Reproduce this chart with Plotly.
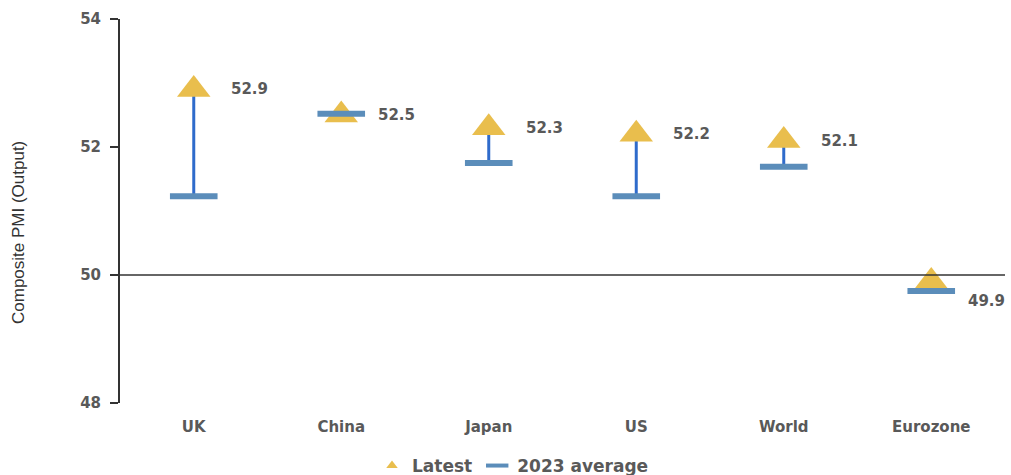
import plotly.graph_objects as go

categories = ["UK", "China", "Japan", "US", "World", "Eurozone"]
latest = [52.9, 52.5, 52.3, 52.2, 52.1, 49.9]
avg_2023 = [51.23, 52.52, 51.75, 51.23, 51.69, 49.75]
label_text = ["52.9", "52.5", "52.3", "52.2", "52.1", "49.9"]
y_ticks = [48, 50, 52, 54]

TXT = "#595959"
FONT = "DejaVu Sans"

fig = go.Figure()

# connecting stems
sx, sy = [], []
for c, a, l in zip(categories, avg_2023, latest):
    sx += [c, c, None]
    sy += [a, l, None]
fig.add_trace(go.Scatter(x=sx, y=sy, mode="lines", line=dict(color="#2F6BCB", width=3),
                         showlegend=False, hoverinfo="skip"))

fig.add_trace(go.Scatter(x=categories, y=latest, mode="markers", name="Latest", showlegend=False,
                         marker=dict(symbol="triangle-up", size=29, color="#E9BE4D")))
fig.add_trace(go.Scatter(x=categories, y=avg_2023, mode="markers", name="2023 average", showlegend=False,
                         marker=dict(symbol="line-ew", size=34,
                                     line=dict(color="#5B8DBA", width=6))))

# legend entries
fig.add_trace(go.Scatter(x=[None], y=[None], mode="markers", name="Latest",
                         marker=dict(symbol="triangle-up", size=10, color="#E9BE4D")))
fig.add_trace(go.Scatter(x=[None], y=[None], mode="markers", name="2023 average",
                         marker=dict(symbol="line-ew", size=16, line=dict(color="#5B8DBA", width=4))))

for c, l, t in zip(categories, latest, label_text):
    ys = -20 if l < 50 else 0
    fig.add_annotation(x=c, y=l, text=t, showarrow=False, xanchor="left", yanchor="middle",
                       xshift=35, yshift=ys,
                       font=dict(family=FONT, size=15, color=TXT, weight="bold"))

fig.add_shape(type="line", xref="paper", yref="y", x0=0, x1=1, y0=50, y1=50,
              line=dict(color="#333333", width=1.5))

fig.add_annotation(xref="paper", yref="paper", x=-(120 - 18) / 885, y=(403 - 233) / 384,
                   text="Composite PMI (Output)", textangle=-90, showarrow=False,
                   xanchor="center", yanchor="middle",
                   font=dict(family="Liberation Sans Narrow, Liberation Sans", size=17, color="#333333"))

fig.update_layout(
    width=1011, height=475,
    margin=dict(l=120, r=6, t=19, b=72, autoexpand=False),
    plot_bgcolor="white", paper_bgcolor="white",
    font=dict(family=FONT, size=15, color=TXT),
    legend=dict(orientation="h", x=(372 - 120) / 885, xanchor="left", y=(403 - 466) / 384, yanchor="middle",
                font=dict(family=FONT, size=17, color=TXT, weight="bold"), itemwidth=30,
                bgcolor="rgba(0,0,0,0)"),
    showlegend=True,
)
fig.update_xaxes(type="category", range=[-0.5, 5.5], showline=False, showgrid=False,
                 ticks="", tickfont=dict(family=FONT, size=15, color=TXT, weight="bold"),
                 zeroline=False, ticklabelstandoff=13)
fig.update_yaxes(range=[48, 54], tickvals=y_ticks, showline=True, linecolor="#333333", linewidth=2,
                 ticks="outside", ticklen=8, tickcolor="#333333", tickwidth=2, showgrid=False,
                 zeroline=False, tickfont=dict(family=FONT, size=15, color=TXT, weight="bold"),
                 ticklabelstandoff=6)

fig.write_html("out.html")
